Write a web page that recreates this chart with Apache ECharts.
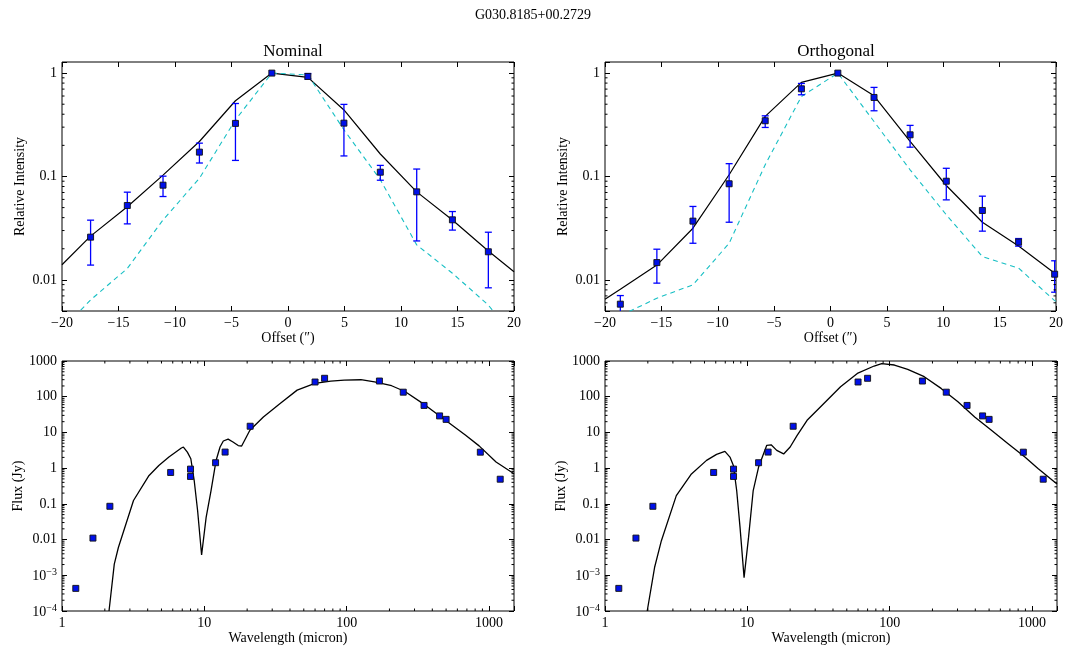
<!DOCTYPE html>
<html><head><meta charset="utf-8">
<script src="https://cdn.jsdelivr.net/npm/echarts@6/dist/echarts.min.js"></script>
<style>html,body{margin:0;padding:0;background:#fff}#c{width:1066px;height:651px}</style>
</head><body><div id="c"></div><script>
// ---------------- DATA ----------------
const mainTitle = 'G030.8185+00.2729';
const panelTitles = ['Nominal', 'Orthogonal'];
const offsetTicks = [-20, -15, -10, -5, 0, 5, 10, 15, 20];

// Nominal cut
const nomX  = [-17.47, -14.22, -11.06, -7.84, -4.65, -1.43, 1.76, 4.95, 8.17, 11.39, 14.55, 17.73];
const nomY  = [0.0259, 0.0524, 0.0824, 0.172, 0.326, 1.0, 0.928, 0.328, 0.110, 0.071, 0.0381, 0.0187];
const nomLo = [0.0139, 0.0348, 0.064, 0.135, 0.143, 1.0, 0.875, 0.158, 0.092, 0.0238, 0.0303, 0.00838];
const nomHi = [0.0378, 0.0705, 0.1007, 0.210, 0.508, 1.0, 0.99, 0.498, 0.128, 0.118, 0.0458, 0.0289];
const nomModelX = [-20, -17.47, -14.22, -11.06, -7.84, -4.65, -1.43, 1.76, 4.95, 8.17, 11.39, 14.55, 17.73, 20];
const nomModel  = [0.014, 0.0265, 0.051, 0.103, 0.218, 0.54, 1.0, 0.91, 0.44, 0.165, 0.071, 0.038, 0.019, 0.012];
const nomBeam   = [0.0033, 0.0064, 0.0129, 0.038, 0.096, 0.353, 1.0, 0.96, 0.283, 0.093, 0.0218, 0.0116, 0.0057, 0.0028];

// Orthogonal cut
const ortX  = [-18.64, -15.40, -12.20, -8.99, -5.79, -2.58, 0.65, 3.86, 7.06, 10.27, 13.47, 16.68, 19.88];
const ortY  = [0.00582, 0.0147, 0.037, 0.085, 0.346, 0.705, 1.0, 0.581, 0.253, 0.090, 0.0469, 0.0232, 0.01135];
const ortLo = [0.0045, 0.0093, 0.0226, 0.0361, 0.298, 0.617, 1.0, 0.432, 0.192, 0.0594, 0.0296, 0.0212, 0.0076];
const ortHi = [0.00705, 0.0198, 0.0513, 0.133, 0.386, 0.794, 1.0, 0.727, 0.312, 0.12, 0.0645, 0.0251, 0.0153];
const ortModelX = [-20, -18.64, -15.40, -12.20, -8.99, -5.79, -2.58, 0.65, 3.86, 7.06, 10.27, 13.47, 16.68, 19.88, 20];
const ortModel  = [0.0065, 0.0081, 0.0139, 0.0316, 0.104, 0.381, 0.812, 1.0, 0.603, 0.218, 0.0818, 0.0361, 0.0213, 0.0116, 0.0112];
const ortBeam   = [0.0038, 0.0045, 0.00665, 0.00895, 0.0226, 0.13, 0.594, 1.0, 0.34, 0.116, 0.0426, 0.0168, 0.013, 0.0063, 0.0062];

// SED observations (same in both panels)
const sedWl   = [1.25, 1.65, 2.17, 5.8, 8.0, 8.0, 12.0, 14.0, 21.0, 60, 70, 170, 250, 350, 450, 500, 870, 1200];
const sedFlux = [4.3e-4, 0.011, 0.0855, 0.757, 0.94, 0.585, 1.42, 2.82, 14.9, 258, 328, 275, 134, 57, 29, 23.2, 2.8, 0.49];

// SED model, nominal
const nomSedWl = [2.14, 2.33, 2.49, 3.18, 4.06, 4.79, 5.64, 6.9, 7.13, 7.6, 8.04, 8.49, 8.97, 9.57, 10.3, 11.15, 12.1, 12.9, 13.6, 14.7, 15.9, 17.3, 18.3, 20.9, 26, 34.1, 44.9, 59.8, 77.4, 96.2, 126, 157, 207, 257, 357, 495, 686, 853, 1122, 1500];
const nomSedF  = [1e-4, 0.00205, 0.006, 0.124, 0.6, 1.19, 2.04, 3.66, 3.9, 2.8, 1.83, 0.45, 0.065, 0.0037, 0.042, 0.236, 1.64, 3.9, 5.75, 6.5, 5.4, 4.3, 4.17, 11.5, 27, 64.7, 153, 236, 274, 292, 299, 262, 203, 140, 58, 21.9, 8.3, 4.2, 1.48, 0.7];

// SED model, orthogonal
const ortSedWl = [1.98, 2.23, 2.49, 3.17, 4.05, 5.17, 6.08, 6.96, 7.55, 7.98, 8.42, 8.89, 9.49, 10.2, 11.0, 12.0, 13.7, 14.7, 16.1, 18.0, 20.0, 22.4, 26.3, 34.5, 45.2, 59.3, 77.8, 88, 108, 134, 175, 230, 302, 396, 519, 680, 892, 1108, 1500];
const ortSedF  = [1e-4, 0.00165, 0.0093, 0.17, 0.69, 1.65, 2.43, 2.95, 2.04, 1.19, 0.236, 0.022, 8.6e-4, 0.0115, 0.236, 1.07, 4.35, 4.5, 3.15, 2.5, 3.9, 8.3, 21.9, 64.6, 190, 450, 724, 850, 772, 583, 363, 171, 72, 27.2, 11.5, 4.84, 2.04, 0.96, 0.36];

// ---------------- CHART ----------------
const FONT = 'Liberation Serif';
const zip = (a, b) => a.map((v, i) => [v, b[i]]);
const grids = [
  {left: 62, top: 62, width: 452, height: 249},
  {left: 605, top: 62, width: 452, height: 249},
  {left: 62, top: 361, width: 452, height: 250},
  {left: 605, top: 361, width: 452, height: 250}
].map(g => Object.assign(g, {show: true, borderColor: '#000', borderWidth: 1, backgroundColor: 'transparent'}));

const OFF = [offsetTicks[0], offsetTicks[offsetTicks.length - 1]], RI = [0.005, 1.28], WL = [1, 1500], FX = [1e-4, 1000];

function minus(s) { return String(s).replace('-', '\u2212'); }
function logFmt(v) {
  const e = Math.log10(v), r = Math.round(e);
  if (Math.abs(e - r) > 1e-6) return '';
  if (r >= 0) return String(Math.pow(10, r));
  if (r >= -2) return '0.' + '0'.repeat(-r - 1) + '1';
  return '{b|10}{s|\u2212' + (-r) + '}';
}
const rich = {b: {fontSize: 14, fontFamily: FONT, color: '#000', verticalAlign: 'bottom', lineHeight: 16},
              s: {fontSize: 10, fontFamily: FONT, color: '#000', verticalAlign: 'top', lineHeight: 10}};
const tick = {inside: true, length: 5, lineStyle: {color: '#000', width: 1}};
const lbl = {color: '#000', fontSize: 14, fontFamily: FONT};
const nameStyle = {color: '#000', fontSize: 14, fontFamily: FONT};

function axisPair(kind, g, type, range, opts) {
  const base = {type, gridIndex: g, min: range[0], max: range[1], splitLine: {show: false},
    axisLine: {show: false, onZero: false}, axisTick: tick};
  if (type === 'value') base.interval = 5;
  const prim = Object.assign({}, base, {
    axisLabel: Object.assign({}, lbl, {margin: 5, rich, formatter: type === 'log' ? logFmt : minus}),
    name: opts.name, nameLocation: 'middle', nameGap: opts.gap, nameTextStyle: nameStyle
  });
  const dup = Object.assign({}, base, {position: kind === 'x' ? 'top' : 'right', axisLabel: {show: false}});
  return [prim, dup];
}

const xAxis = [].concat(
  axisPair('x', 0, 'value', OFF, {name: 'Offset (\u2033)', gap: 20}),
  axisPair('x', 1, 'value', OFF, {name: 'Offset (\u2033)', gap: 20}),
  axisPair('x', 2, 'log', WL, {name: 'Wavelength (micron)', gap: 19}),
  axisPair('x', 3, 'log', WL, {name: 'Wavelength (micron)', gap: 19})
);
const yAxis = [].concat(
  axisPair('y', 0, 'log', RI, {name: 'Relative Intensity', gap: 35}),
  axisPair('y', 1, 'log', RI, {name: 'Relative Intensity', gap: 35}),
  axisPair('y', 2, 'log', FX, {name: 'Flux (Jy)', gap: 35}),
  axisPair('y', 3, 'log', FX, {name: 'Flux (Jy)', gap: 35})
);

function minorList(r) {
  const out = [];
  for (let e = Math.floor(Math.log10(r[0])); e <= Math.ceil(Math.log10(r[1])); e++)
    for (let m = 2; m <= 9; m++) { const v = m * Math.pow(10, e); if (v > r[0] * 1.0001 && v < r[1] * 0.9999) out.push(v); }
  return out;
}
function minorTicks(g, xr, yr, xLog) {
  const data = [];
  minorList(yr).forEach(v => data.push([xr[0], v, 0]));
  if (xLog) minorList(xr).forEach(v => data.push([v, yr[0], 1]));
  const len = 2.5;
  return {type: 'custom', xAxisIndex: 2 * g, yAxisIndex: 2 * g, data, silent: true, clip: false, z: 6,
    renderItem(params, api) {
      const st = {stroke: '#000', lineWidth: 1};
      if (api.value(2) === 0) {
        const v = api.value(1), a = api.coord([xr[0], v]), b = api.coord([xr[1], v]);
        return {type: 'group', children: [
          {type: 'line', shape: {x1: a[0], y1: a[1], x2: a[0] + len, y2: a[1]}, style: st},
          {type: 'line', shape: {x1: b[0], y1: b[1], x2: b[0] - len, y2: b[1]}, style: st}]};
      }
      const v = api.value(0), a = api.coord([v, yr[0]]), b = api.coord([v, yr[1]]);
      return {type: 'group', children: [
        {type: 'line', shape: {x1: a[0], y1: a[1], x2: a[0], y2: a[1] - len}, style: st},
        {type: 'line', shape: {x1: b[0], y1: b[1], x2: b[0], y2: b[1] + len}, style: st}]};
    }};
}
function errBars(g, xs, lo, hi) {
  return {type: 'custom', xAxisIndex: 2 * g, yAxisIndex: 2 * g, clip: true, silent: true, z: 3,
    data: xs.map((x, i) => [x, lo[i], hi[i]]),
    renderItem(params, api) {
      const x = api.value(0), a = api.coord([x, api.value(1)]), b = api.coord([x, api.value(2)]);
      if (Math.abs(a[1] - b[1]) < 1) return null;
      const w = 3.5, st = {stroke: '#0000ff', lineWidth: 1.3};
      return {type: 'group', children: [
        {type: 'line', shape: {x1: a[0], y1: a[1], x2: b[0], y2: b[1]}, style: st},
        {type: 'line', shape: {x1: a[0] - w, y1: a[1], x2: a[0] + w, y2: a[1]}, style: st},
        {type: 'line', shape: {x1: b[0] - w, y1: b[1], x2: b[0] + w, y2: b[1]}, style: st}]};
    }};
}
function lineS(g, xs, ys, color, dashed, w) {
  return {type: 'line', xAxisIndex: 2 * g, yAxisIndex: 2 * g, data: zip(xs, ys), symbol: 'none', silent: true,
    clip: true, z: 2, lineStyle: {color, width: w, type: dashed ? [5, 4] : 'solid'}};
}
function pts(g, xs, ys) {
  return {type: 'scatter', xAxisIndex: 2 * g, yAxisIndex: 2 * g, data: zip(xs, ys), symbol: 'rect', symbolSize: 6,
    silent: true, z: 4, itemStyle: {color: '#0010e8', borderColor: '#111', borderWidth: 0.9, opacity: 1}};
}

const series = [
  lineS(0, nomModelX, nomModel, '#000', false, 1.2),
  lineS(0, nomModelX, nomBeam, '#17bfc4', true, 1.1),
  errBars(0, nomX, nomLo, nomHi),
  pts(0, nomX, nomY),
  minorTicks(0, OFF, RI, false),
  lineS(1, ortModelX, ortModel, '#000', false, 1.2),
  lineS(1, ortModelX, ortBeam, '#17bfc4', true, 1.1),
  errBars(1, ortX, ortLo, ortHi),
  pts(1, ortX, ortY),
  minorTicks(1, OFF, RI, false),
  lineS(2, nomSedWl, nomSedF, '#000', false, 1.3),
  pts(2, sedWl, sedFlux),
  minorTicks(2, WL, FX, true),
  lineS(3, ortSedWl, ortSedF, '#000', false, 1.3),
  pts(3, sedWl, sedFlux),
  minorTicks(3, WL, FX, true)
];

const ts = s => ({fontSize: s, fontWeight: 'normal', fontFamily: FONT, color: '#000'});
const chart = echarts.init(document.getElementById('c'), null, {renderer: 'canvas'});
chart.setOption({
  animation: false,
  backgroundColor: '#fff',
  textStyle: {fontFamily: FONT},
  title: [
    {text: mainTitle, left: 'center', top: 3, textStyle: ts(14)},
    {text: panelTitles[0], left: 288, top: 38, textAlign: 'center', textStyle: ts(17)},
    {text: panelTitles[1], left: 831, top: 38, textAlign: 'center', textStyle: ts(17)}
  ],
  grid: grids,
  xAxis, yAxis, series
});
</script></body></html>
